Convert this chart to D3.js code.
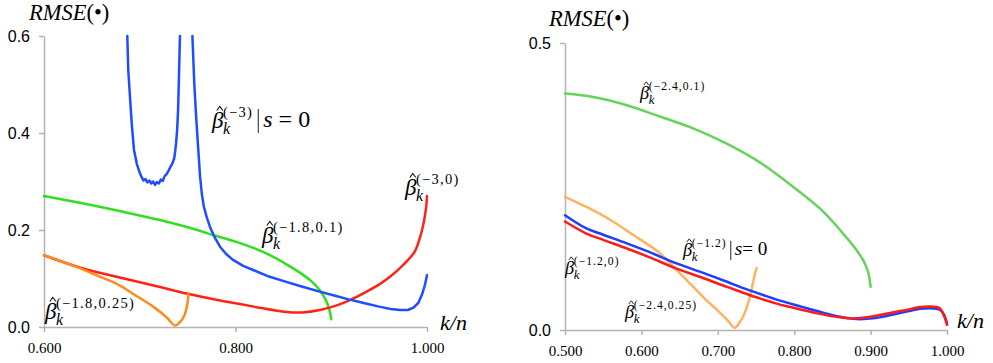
<!DOCTYPE html>
<html><head><meta charset="utf-8">
<script src="https://cdn.jsdelivr.net/npm/d3@7"></script>
<style>body{margin:0;background:#fff}svg{display:block}</style>
</head><body>
<svg id="c" width="993" height="363"></svg>
<script>
// ---------- DATA ----------
const leftXTicks = [0.6, 0.8, 1.0];
const leftYTicks = [0, 0.2, 0.4, 0.6];
const rightXTicks = [0.5, 0.6, 0.7, 0.8, 0.9, 1.0];
const rightYTicks = [0, 0.5];

// Left panel series: [k/n, RMSE]
const leftBlueA = [[0.687,0.600],[0.688,0.530],[0.690,0.468],[0.692,0.410],[0.694,0.365],[0.697,0.336],[0.700,0.318],[0.702,0.309],[0.704,0.302],[0.706,0.305],[0.708,0.298],[0.710,0.302],[0.712,0.296],[0.714,0.300],[0.716,0.293],[0.718,0.299],[0.720,0.296],[0.722,0.304],[0.724,0.301],[0.726,0.311],[0.728,0.315],[0.730,0.322],[0.732,0.330],[0.734,0.337],[0.736,0.348],[0.737,0.362],[0.738,0.380],[0.739,0.405],[0.740,0.445],[0.741,0.520],[0.742,0.600]];
const leftBlueB = [[0.755,0.600],[0.757,0.500],[0.759,0.430],[0.761,0.370],[0.763,0.310],[0.765,0.272],[0.767,0.248],[0.770,0.226],[0.774,0.203],[0.779,0.182],[0.784,0.165],[0.790,0.151],[0.797,0.139],[0.808,0.126],[0.819,0.117],[0.835,0.104],[0.853,0.093],[0.870,0.083],[0.888,0.073],[0.905,0.064],[0.920,0.056],[0.935,0.049],[0.950,0.042],[0.962,0.037],[0.972,0.035],[0.980,0.035],[0.986,0.040],[0.991,0.050],[0.995,0.068],[0.998,0.088],[1.000,0.107]];
const leftGreen = [[0.600,0.270],[0.640,0.255],[0.679,0.239],[0.720,0.221],[0.760,0.200],[0.779,0.188],[0.800,0.176],[0.820,0.162],[0.836,0.148],[0.855,0.127],[0.871,0.107],[0.880,0.093],[0.888,0.076],[0.894,0.057],[0.898,0.036],[0.900,0.016]];
const leftRed = [[0.600,0.148],[0.640,0.121],[0.679,0.102],[0.720,0.083],[0.749,0.069],[0.780,0.056],[0.819,0.042],[0.853,0.031],[0.870,0.030],[0.888,0.035],[0.905,0.044],[0.920,0.056],[0.935,0.071],[0.951,0.089],[0.961,0.103],[0.972,0.122],[0.980,0.138],[0.987,0.155],[0.992,0.180],[0.996,0.210],[0.999,0.245],[1.000,0.270]];
const leftOrange = [[0.600,0.148],[0.630,0.127],[0.658,0.104],[0.679,0.086],[0.695,0.066],[0.714,0.042],[0.728,0.020],[0.737,0.003],[0.742,0.010],[0.746,0.021],[0.749,0.040],[0.751,0.069]];

// Right panel series
const rightGreen = [[0.500,0.412],[0.537,0.406],[0.580,0.392],[0.624,0.372],[0.670,0.350],[0.711,0.325],[0.755,0.292],[0.798,0.250],[0.835,0.210],[0.864,0.168],[0.880,0.142],[0.891,0.120],[0.897,0.100],[0.900,0.075]];
const rightBlue = [[0.500,0.200],[0.528,0.177],[0.550,0.166],[0.581,0.151],[0.610,0.136],[0.646,0.116],[0.680,0.100],[0.712,0.084],[0.729,0.075],[0.755,0.063],[0.777,0.053],[0.795,0.046],[0.830,0.033],[0.860,0.023],[0.882,0.019],[0.900,0.020],[0.912,0.022],[0.930,0.027],[0.947,0.032],[0.965,0.037],[0.978,0.038],[0.986,0.037],[0.991,0.035],[0.996,0.027],[1.000,0.012]];
const rightRed = [[0.500,0.189],[0.528,0.168],[0.550,0.157],[0.581,0.142],[0.610,0.127],[0.646,0.107],[0.680,0.091],[0.712,0.075],[0.729,0.067],[0.755,0.055],[0.777,0.046],[0.795,0.040],[0.830,0.029],[0.860,0.022],[0.877,0.020],[0.900,0.023],[0.912,0.026],[0.930,0.031],[0.947,0.035],[0.965,0.040],[0.978,0.041],[0.986,0.040],[0.991,0.037],[0.996,0.025],[1.000,0.009]];
const rightOrange = [[0.500,0.232],[0.530,0.213],[0.559,0.192],[0.590,0.165],[0.624,0.134],[0.645,0.106],[0.668,0.075],[0.685,0.052],[0.699,0.035],[0.712,0.018],[0.722,0.004],[0.728,0.012],[0.733,0.023],[0.738,0.040],[0.742,0.058],[0.746,0.082],[0.749,0.100],[0.751,0.108]];

// ---------- DRAW ----------
const svg = d3.select("#c");
const AXC = "#b3b3b3";
const SERIF = "'Liberation Serif','Times New Roman',serif";
const SANS = "'Liberation Sans',Arial,sans-serif";

function panel(cfg){
  const x = d3.scaleLinear().domain(cfg.xd).range(cfg.xr);
  const y = d3.scaleLinear().domain(cfg.yd).range(cfg.yr);
  const g = svg.append("g");
  const ax = g.append("g").attr("transform",`translate(0,${cfg.yr[0]})`)
    .call(d3.axisBottom(x).tickValues(cfg.xt).tickSize(5).tickSizeOuter(0).tickFormat(d3.format(".3f")));
  ax.selectAll("text").attr("y",26).attr("dy",0).style("font-family",SERIF).style("font-size","15px").attr("fill","#000");
  const ay = g.append("g").attr("transform",`translate(${cfg.xr[0]},0)`)
    .call(d3.axisLeft(y).tickValues(cfg.yt).tickSize(5).tickSizeOuter(0).tickFormat(d3.format(".1f")));
  ay.selectAll("text").attr("x",-14).attr("dy","0.36em").style("font-family",SANS).style("font-size","16px").attr("fill","#000");
  [ax,ay].forEach(a=>{a.select(".domain").attr("stroke",AXC).attr("stroke-width",1.5);
    a.selectAll(".tick line").attr("stroke",AXC).attr("stroke-width",1.5);});
  cfg.series.forEach(s=>{
    g.append("path").datum(s.data)
      .attr("fill","none").attr("stroke",s.color).attr("stroke-width",2.5)
      .attr("stroke-linejoin","round").attr("stroke-linecap","round")
      .attr("d",d3.line().x(d=>x(d[0])).y(d=>y(d[1])).curve(s.curve||d3.curveCatmullRom.alpha(0.5)));
  });
  const t = g.append("text").attr("x",cfg.title[0]).attr("y",cfg.title[1])
    .style("font-family",SERIF).style("font-size","22.5px");
  t.append("tspan").style("font-style","italic").text("RMSE");
  t.append("tspan").text("(•)");
  g.append("text").attr("x",cfg.kn[0]).attr("y",cfg.kn[1])
    .style("font-family",SERIF).style("font-size","22px").style("font-style","italic").text("k/n");
}

function label(x, yb, sup, s, extra){
  const g = svg.append("g").attr("transform",`translate(${x},${yb})`);
  g.append("path").attr("d",`M${4.8*s},${-17.5*s} L${7.8*s},${-21.5*s} L${10.8*s},${-17.5*s}`)
    .attr("fill","none").attr("stroke","#111").attr("stroke-width",1.1*s);
  const t = g.append("text").attr("x",0).attr("y",0).style("font-family",SERIF);
  t.append("tspan").style("font-style","italic").style("font-size",(23*s)+"px").text("β");
  const k = t.append("tspan").attr("dx",(-0.5*s)).attr("dy",6*s).style("font-style","italic")
    .style("font-size",(16*s)+"px").text("k");
  const kw = k.node().getComputedTextLength();
  t.append("tspan").attr("dx",-kw).attr("dy",-17*s).style("font-size",(14.5*s)+"px")
    .style("letter-spacing",(1.3*s)+"px").text(sup);
  if(extra){
    const bb = t.node().getBBox();
    const bx = bb.x + bb.width + 5*s;
    g.append("line").attr("x1",bx).attr("x2",bx).attr("y1",-19*s).attr("y2",5*s)
      .attr("stroke","#222").attr("stroke-width",1);
    const e = g.append("text").attr("x",bx+5*s).attr("y",-1*s).style("font-family",SERIF)
      .style("font-size",(extra.size*s)+"px");
    e.append("tspan").style("font-style","italic").text("s");
    e.append("tspan").text(extra.eq);
  }
}

panel({xd:[0.6,1.0], xr:[44,427], yd:[0,0.6], yr:[327,36], xt:leftXTicks, yt:leftYTicks,
  title:[29,20], kn:[440,330],
  series:[
    {data:leftGreen,color:"#33dd22"},
    {data:leftRed,color:"#ff2314"},
    {data:leftOrange,color:"#ff8a1e"},
    {data:leftBlueA,color:"#1f4dff",curve:d3.curveLinear},
    {data:leftBlueB,color:"#1f4dff",curve:d3.curveLinear}
  ]});
panel({xd:[0.5,1.0], xr:[565,947], yd:[0,0.5], yr:[330,43], xt:rightXTicks, yt:rightYTicks,
  title:[549,26], kn:[957,328],
  series:[
    {data:rightGreen,color:"#66d35a"},
    {data:rightOrange,color:"#ffb262"},
    {data:rightBlue,color:"#1f3dff"},
    {data:rightRed,color:"#ff1a1a"}
  ]});

label(212,128,"(−3)",1,{size:24,eq:" = 0"});
label(262,243,"(−1.8,0.1)",1);
label(405,195,"(−3,0)",1);
label(45,319,"(−1.8,0.25)",1);
label(640,99,"(−2.4,0.1)",0.8);
label(683,256,"(−1.2)",0.8,{size:24,eq:"= 0"});
label(565,274,"(−1.2,0)",0.8);
label(625,318,"(−2.4,0.25)",0.8);
</script>
</body></html>
